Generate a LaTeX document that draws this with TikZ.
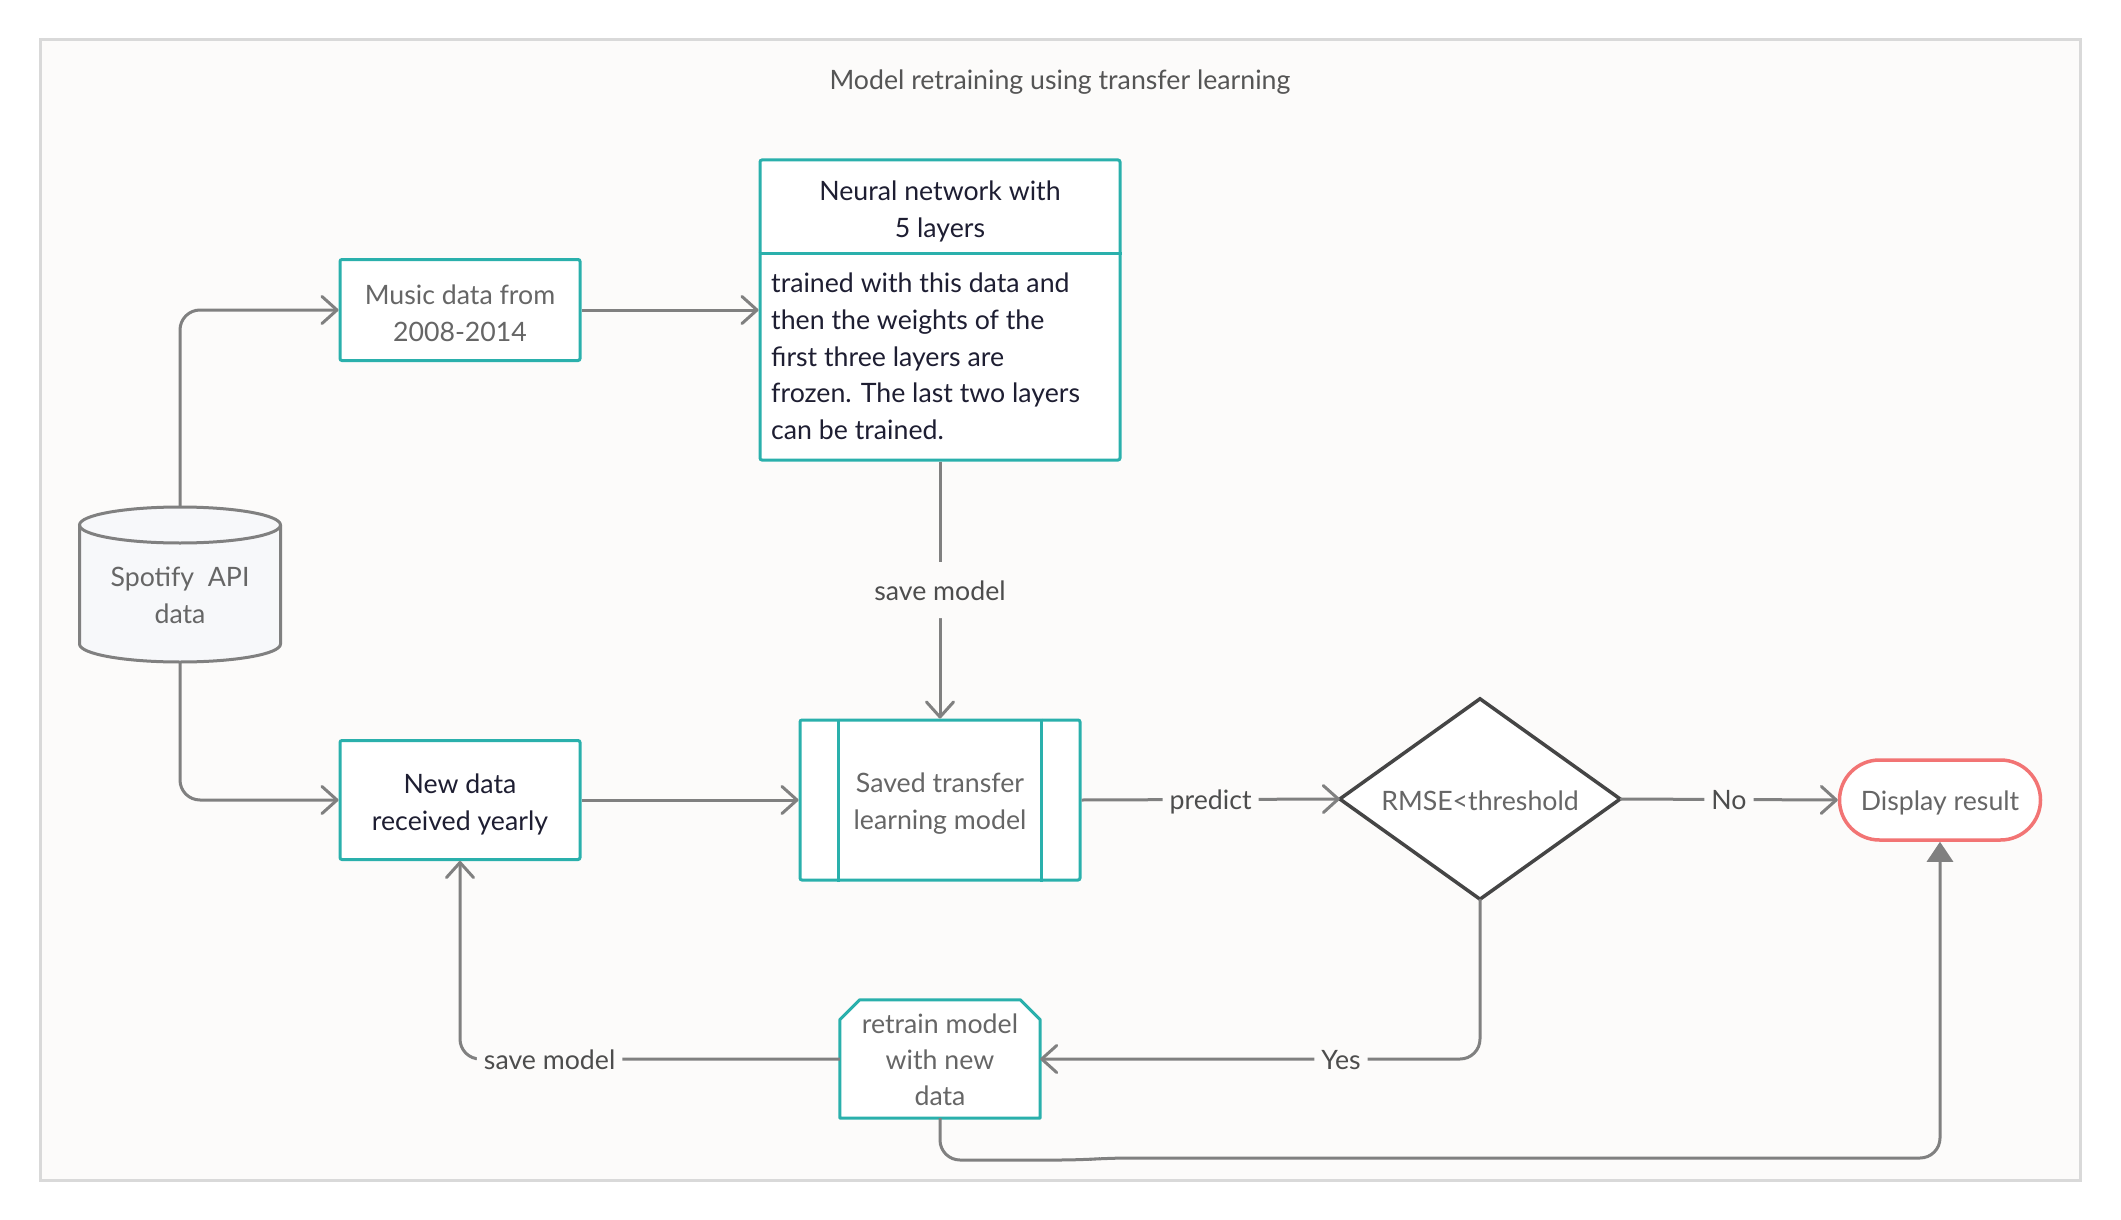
\documentclass[tikz,border=0pt]{standalone}
\usepackage{fontspec}
\setmainfont{Lato}
\usetikzlibrary{arrows.meta,calc}
\definecolor{bgc}{HTML}{FCFBFA}
\definecolor{framec}{HTML}{D9D9D9}
\definecolor{tealc}{HTML}{2AB0AC}
\definecolor{linec}{HTML}{808080}
\definecolor{decc}{HTML}{454545}
\definecolor{redc}{HTML}{F27474}
\definecolor{txtgray}{HTML}{666666}
\definecolor{txtdark}{HTML}{1E1E32}
\definecolor{lblc}{HTML}{4D4D4D}
\definecolor{titlec}{HTML}{555555}
\definecolor{cylfill}{HTML}{F7F8FA}
\begin{document}
\begin{tikzpicture}[x=1pt,y=-1pt,
  every node/.style={font=\fontsize{26.7}{37}\selectfont, inner sep=0pt},
  box/.style={draw=tealc, line width=3pt, fill=white, rounded corners=2pt, align=center},
  ghost/.style={inner sep=0pt, align=center},
  conn/.style={draw=linec, line width=3pt, rounded corners=20pt, -{Straight Barb[length=15pt,width=27pt,round]}},
  lbl/.style={fill=bgc, text=lblc, inner xsep=7pt, inner ysep=18pt, text height=20pt, text depth=0pt},
]
\useasboundingbox (0,0) rectangle (2121,1220);
\fill[white] (0,0) rectangle (2121,1220);
\draw[framec, line width=3pt, fill=bgc] (40,40) rectangle (2080,1180);

\node[text=titlec, anchor=base] (title) at (1060,90) {Model retraining using transfer learning};

% music data
\node[box, text=txtgray, minimum width=240pt, minimum height=101pt] (music) at (460,310) {};
\node[text=txtgray, align=center] (musictext) at (460,313) {Music data from\\2008-2014};

% neural network
\node[box, minimum width=360pt, minimum height=300pt] (nn) at (940,310) {};
\coordinate (divy) at (0,253);
\draw[tealc, line width=3pt] (nn.west |- divy) -- (nn.east |- divy);
\node[text=txtdark, align=center] (nnhead) at (940,211) {Neural network with\\5 layers};
\node[text=txtdark, align=left, anchor=north west, font=\fontsize{26.7}{36.7}\selectfont] (nnbody) at (771,273) {trained with this data and\\then the weights of the\\first three layers are\\frozen. The last two layers\\can be trained.};

% cylinder
\fill[cylfill] (79.5,525) -- (79.5,644) .. controls (79.5,654) and (124.5,662) .. (180,662) .. controls (235.5,662) and (280.5,654) .. (280.5,644) -- (280.5,525) -- cycle;
\draw[linec, line width=3pt, fill=cylfill] (180,525) ellipse [x radius=100.5, y radius=18];
\draw[linec, line width=3pt] (79.5,525) -- (79.5,644) .. controls (79.5,654) and (124.5,662) .. (180,662) .. controls (235.5,662) and (280.5,654) .. (280.5,644) -- (280.5,525);
\node[ghost, minimum width=201pt, minimum height=155pt] (cyl) at (180,584.5) {};
\node[text=txtgray, align=center] (cyltext) at (180,595) {Spotify\ \ API\\data};

% new data
\node[box, minimum width=240pt, minimum height=119pt] (newd) at (460,800) {};
\node[text=txtdark, align=center] (newdtext) at (460,804) {New data\\received yearly};

% saved model
\node[box, minimum width=280pt, minimum height=160pt] (saved) at (940,800) {};
\draw[tealc, line width=3pt] ([xshift=40pt]saved.north west) -- ([xshift=40pt]saved.south west);
\draw[tealc, line width=3pt] ([xshift=-40pt]saved.north east) -- ([xshift=-40pt]saved.south east);
\node[text=txtgray, align=center] (savedtext) at (940,804) {Saved transfer\\learning model};

% decision
\node[ghost, minimum width=280pt, minimum height=200pt] (dec) at (1480,799) {};
\draw[decc, line width=3.5pt, fill=white, line join=miter] (dec.north) -- (dec.east) -- (dec.south) -- (dec.west) -- cycle;
\node[text=txtgray, text height=20pt, text depth=0pt] (dectext) at (1480,800) {RMSE<threshold};

% display result
\node[draw=redc, line width=3.5pt, fill=white, rounded corners=40pt, minimum width=201pt, minimum height=80pt, text=txtgray, text height=20pt, text depth=0pt] (disp) at (1940,800) {Display result};

% retrain
\node[ghost, minimum width=200pt, minimum height=118pt] (retrain) at (940,1059) {};
\draw[tealc, line width=3pt, fill=white, line join=round] (retrain.south west) -- ([yshift=-20pt]retrain.north west) -- ([xshift=20pt]retrain.north west) -- ([xshift=-20pt]retrain.north east) -- ([yshift=-20pt]retrain.north east) -- (retrain.south east) -- cycle;
\node[text=txtgray, align=center, font=\fontsize{26.7}{36}\selectfont] (rtext) at (940,1060) {retrain model\\with new\\data};

% connectors
\draw[conn] (cyl.north) |- (music.west);
\draw[conn] (music.east) -- (nn.west);
\draw[conn] (nn.south) -- node[lbl]{save model} (saved.north);
\draw[conn] (cyl.south) |- (newd.west);
\draw[conn] (newd.east) -- (saved.west);
\draw[conn] (saved.east) -- node[lbl]{predict} (dec.west);
\draw[conn] (dec.east) -- node[lbl]{No} (disp.west);
\draw[conn] (dec.south) |- node[lbl, pos=0.658]{Yes} (retrain.east);
\draw[conn] (retrain.west) -| node[lbl, pos=0.382]{save model} (newd.south);
\coordinate (k1) at (1080,1160);
\coordinate (k2) at (1110,1158);
\draw[conn, -{Triangle[length=20pt,width=26pt]}] (retrain.south) |- (k1) -- (k2) -| (disp.south);
\end{tikzpicture}
\end{document}
